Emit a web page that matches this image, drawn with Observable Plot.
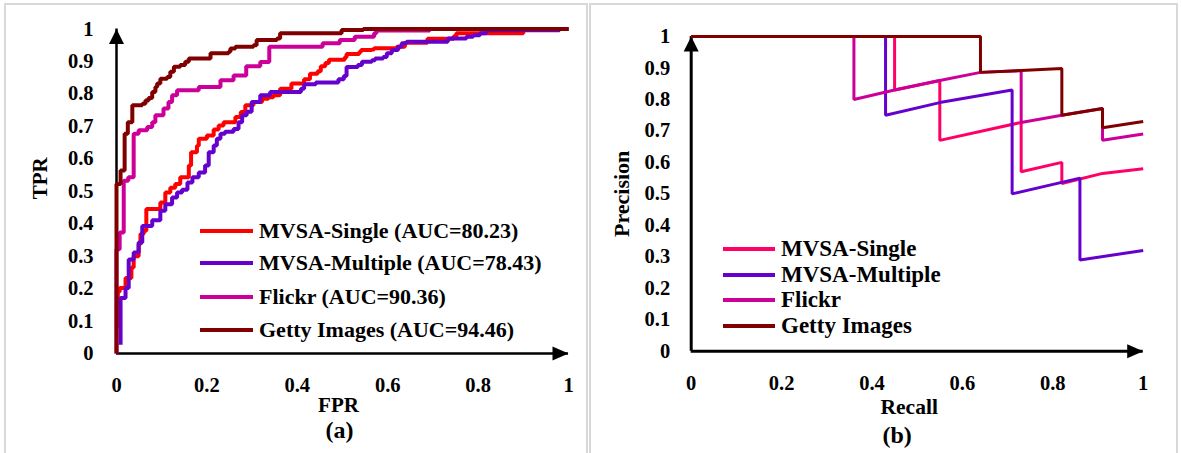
<!DOCTYPE html>
<html><head><meta charset="utf-8">
<script src="https://cdn.jsdelivr.net/npm/d3@7"></script>
<script src="https://cdn.jsdelivr.net/npm/@observablehq/plot@0.6"></script>
<style>
html,body{margin:0;padding:0;background:#fff;width:1181px;height:453px;overflow:hidden;}
#page{position:relative;width:1181px;height:453px;font-family:"Liberation Serif","Times New Roman",serif;font-weight:bold;color:#000;}
.plotbox{position:absolute;top:0;}
.panel{position:absolute;top:3px;height:480px;border:2px solid #d9d9d9;box-sizing:border-box;pointer-events:none;z-index:5;}
.row{position:absolute;display:flex;align-items:center;white-space:nowrap;height:30px;z-index:6;}
.sw{display:inline-block;}
</style></head><body><div id="page"></div>
<script>
// ---------- data ----------
const seriesNames = ["MVSA-Single", "MVSA-Multiple", "Flickr", "Getty Images"];
const aucValues = ["80.23", "78.43", "90.36", "94.46"];
const rocColors = ["#FF0000", "#6600CC", "#CC0099", "#800000"];
const prColors = ["#FF0066", "#6600CC", "#CC0099", "#800000"];

const xTicks = [0, 0.2, 0.4, 0.6, 0.8, 1];
const xTickLabels = ["0", "0.2", "0.4", "0.6", "0.8", "1"];
const yTicks = [0, 0.1, 0.2, 0.3, 0.4, 0.5, 0.6, 0.7, 0.8, 0.9, 1];
const yTickLabels = ["0", "0.1", "0.2", "0.3", "0.4", "0.5", "0.6", "0.7", "0.8", "0.9", "1"];
const xDomain = [0, 1];
const yDomain = [0, 1];

// ROC curves (a): FPR / TPR
const singleFPR = [0.003, 0.003, 0.007, 0.020, 0.033, 0.038, 0.049, 0.053, 0.060, 0.066, 0.097, 0.108, 0.119, 0.130, 0.141, 0.160, 0.165, 0.178, 0.182, 0.200, 0.215, 0.226, 0.237, 0.263, 0.275, 0.285, 0.303, 0.322, 0.336, 0.347, 0.362, 0.387, 0.415, 0.428, 0.445, 0.452, 0.462, 0.470, 0.505, 0.509, 0.537, 0.541, 0.565, 0.570, 0.620, 0.638, 0.688, 0.746, 0.752, 0.900, 1];
const singleTPR = [0.080, 0.190, 0.202, 0.233, 0.265, 0.300, 0.337, 0.368, 0.378, 0.445, 0.465, 0.496, 0.511, 0.522, 0.543, 0.579, 0.620, 0.640, 0.662, 0.672, 0.690, 0.703, 0.713, 0.729, 0.744, 0.765, 0.775, 0.785, 0.790, 0.796, 0.816, 0.832, 0.845, 0.862, 0.870, 0.885, 0.895, 0.905, 0.913, 0.923, 0.929, 0.935, 0.937, 0.941, 0.945, 0.958, 0.970, 0.978, 0.987, 1, 1];
const multipleFPR = [0.009, 0.009, 0.020, 0.027, 0.038, 0.049, 0.057, 0.079, 0.097, 0.108, 0.123, 0.134, 0.145, 0.157, 0.168, 0.182, 0.196, 0.204, 0.215, 0.222, 0.230, 0.240, 0.259, 0.270, 0.278, 0.288, 0.299, 0.318, 0.340, 0.408, 0.415, 0.441, 0.491, 0.503, 0.509, 0.534, 0.543, 0.565, 0.572, 0.590, 0.598, 0.609, 0.623, 0.631, 0.642, 0.733, 0.774, 0.789, 0.804, 0.818, 0.980, 1];
const multipleTPR = [0.027, 0.171, 0.202, 0.290, 0.311, 0.342, 0.393, 0.411, 0.440, 0.460, 0.481, 0.496, 0.505, 0.527, 0.543, 0.558, 0.579, 0.620, 0.641, 0.662, 0.677, 0.683, 0.692, 0.713, 0.734, 0.745, 0.775, 0.796, 0.806, 0.816, 0.830, 0.835, 0.845, 0.855, 0.883, 0.889, 0.899, 0.904, 0.909, 0.914, 0.925, 0.935, 0.945, 0.956, 0.961, 0.971, 0.976, 0.981, 0.987, 0.996, 1, 1];
const flickrFPR = [0, 0, 0.007, 0.016, 0.026, 0.038, 0.049, 0.068, 0.079, 0.086, 0.104, 0.115, 0.123, 0.134, 0.182, 0.230, 0.259, 0.287, 0.318, 0.338, 0.456, 0.494, 0.527, 0.570, 0.575, 0.693, 1];
const flickrTPR = [0, 0.321, 0.373, 0.532, 0.543, 0.677, 0.688, 0.698, 0.713, 0.734, 0.755, 0.775, 0.796, 0.811, 0.821, 0.842, 0.857, 0.885, 0.898, 0.945, 0.956, 0.966, 0.976, 0.987, 0.995, 1, 1];
const gettyFPR = [0, 0, 0.009, 0.018, 0.025, 0.035, 0.057, 0.064, 0.071, 0.079, 0.086, 0.090, 0.097, 0.112, 0.119, 0.127, 0.141, 0.152, 0.160, 0.208, 0.248, 0.252, 0.263, 0.303, 0.310, 0.355, 0.362, 0.498, 0.546, 1];
const gettyTPR = [0, 0.522, 0.564, 0.677, 0.713, 0.765, 0.770, 0.780, 0.787, 0.806, 0.821, 0.832, 0.847, 0.852, 0.868, 0.884, 0.889, 0.899, 0.909, 0.925, 0.930, 0.940, 0.945, 0.950, 0.966, 0.971, 0.987, 0.997, 1, 1];

// Precision-recall curves (b)
const singleRecall = [0, 0.45, 0.45, 0.55, 0.55, 0.73, 0.73, 0.82, 0.82, 0.91, 1];
const singlePrecision = [1, 1, 0.83, 0.86, 0.67, 0.727, 0.57, 0.60, 0.533, 0.565, 0.58];
const multipleRecall = [0, 0.43, 0.43, 0.55, 0.71, 0.71, 0.86, 0.86, 1];
const multiplePrecision = [1, 1, 0.75, 0.79, 0.83, 0.50, 0.55, 0.29, 0.32];
const flickrRecall = [0, 0.36, 0.36, 0.45, 0.55, 0.64, 0.73, 0.73, 0.82, 0.91, 0.91, 1];
const flickrPrecision = [1, 1, 0.80, 0.83, 0.86, 0.886, 0.892, 0.727, 0.75, 0.771, 0.67, 0.69];
const gettyRecall = [0, 0.64, 0.64, 0.82, 0.82, 0.91, 0.91, 1];
const gettyPrecision = [1, 1, 0.886, 0.898, 0.75, 0.771, 0.71, 0.73];

// ---------- build tables ----------
const rocX = [singleFPR, multipleFPR, flickrFPR, gettyFPR];
const rocY = [singleTPR, multipleTPR, flickrTPR, gettyTPR];
const prX = [singleRecall, multipleRecall, flickrRecall, gettyRecall];
const prY = [singlePrecision, multiplePrecision, flickrPrecision, gettyPrecision];
function table(xs, ys) {
  const rows = [];
  seriesNames.forEach((name, k) => xs[k].forEach((x, i) => rows.push({series: name, x, y: ys[k][i]})));
  return rows;
}
const rocData = table(rocX, rocY);
const prData = table(prX, prY);

const FONT = '"Liberation Serif", "Times New Roman", serif';
const arrowUp = {draw(ctx) { ctx.moveTo(0, 0); ctx.lineTo(7.5, 15); ctx.lineTo(-7.5, 15); ctx.closePath(); }};
const arrowRight = {draw(ctx) { ctx.moveTo(0, 0); ctx.lineTo(-16, -7); ctx.lineTo(-16, 7); ctx.closePath(); }};

function chart(o) {
  return Plot.plot({
    width: o.width, height: 453,
    marginLeft: o.ml, marginRight: o.mr, marginTop: o.mt, marginBottom: o.mb,
    x: {domain: xDomain}, y: {domain: yDomain},
    color: {domain: seriesNames, range: o.colors},
    style: {fontFamily: FONT, fontWeight: "bold", fontSize: o.tickFont + "px", background: "transparent", color: "#000", overflow: "visible"},
    marks: [
      Plot.axisX({ticks: xTicks, tickFormat: d => xTickLabels[xTicks.indexOf(d)], tickSize: 0, tickPadding: o.xPad, label: null}),
      Plot.axisY({ticks: yTicks, tickFormat: d => yTickLabels[yTicks.indexOf(d)], tickSize: 0, tickPadding: o.yPad, label: null}),
      Plot.ruleY([yDomain[0]], {x1: xDomain[0], x2: xDomain[1], stroke: "#000", strokeWidth: o.axisW}),
      Plot.ruleX([xDomain[0]], {y1: yDomain[0], y2: yDomain[1], stroke: "#000", strokeWidth: o.axisW}),
      Plot.dot([{x: xDomain[1], y: yDomain[0]}], {x: "x", y: "y", symbol: arrowRight, fill: "#000", stroke: "none"}),
      Plot.dot([{x: xDomain[0], y: yDomain[1]}], {x: "x", y: "y", symbol: arrowUp, fill: "#000", stroke: "none"}),
      Plot.line(o.data, {x: "x", y: "y", z: "series", stroke: "series", curve: o.curve, strokeWidth: o.lineW, strokeLinejoin: "miter", strokeLinecap: "butt"}),
      Plot.text([o.xLabel], {text: d => d, frameAnchor: "bottom", lineAnchor: "middle", textAnchor: "middle", dx: o.xLabDx, dy: o.xLabDy, fontSize: o.labFont}),
      Plot.text([o.panel], {text: d => d, frameAnchor: "bottom", lineAnchor: "middle", textAnchor: "middle", dx: o.panDx, dy: o.panDy, fontSize: 24}),
      Plot.text([o.yLabel], {text: d => d, frameAnchor: "left", lineAnchor: "middle", textAnchor: "middle", rotate: -90, dx: o.yLabDx, dy: o.yLabDy, fontSize: o.yLabFont})
    ]
  });
}

const page = document.getElementById("page");
function place(node, left) {
  const d = document.createElement("div");
  d.className = "plotbox";
  d.style.left = left + "px";
  d.appendChild(node);
  page.appendChild(d);
}
place(chart({width: 588, ml: 116, mr: 20, mt: 28.5, mb: 100, colors: rocColors, data: rocData, curve: "step-after",
  lineW: 4, axisW: 2.5, tickFont: 20.5, xPad: 24, yPad: 23, labFont: 21, yLabFont: 21,
  xLabel: "FPR", xLabDx: -4, xLabDy: 52, panel: "(a)", panDx: -3, panDy: 77,
  yLabel: "TPR", yLabDx: -76, yLabDy: -13}), 0);
place(chart({width: 593, ml: 102.7, mr: 38.3, mt: 36, mb: 102.3, colors: prColors, data: prData, curve: "linear",
  lineW: 3, axisW: 3, tickFont: 20.5, xPad: 24, yPad: 21, labFont: 21.5, yLabFont: 22,
  xLabel: "Recall", xLabDx: -8, xLabDy: 56, panel: "(b)", panDx: -20, panDy: 84,
  yLabel: "Precision", yLabDx: -69, yLabDy: 0}), 588);

// panel borders
[[4, 584], [589, 589]].forEach(([l, w]) => {
  const p = document.createElement("div");
  p.className = "panel"; p.style.left = l + "px"; p.style.width = w + "px";
  page.appendChild(p);
});

// legends
function legend(labels, colors, rowsY, swLeft, swW, swH, gap, font) {
  labels.forEach((lab, i) => {
    const r = document.createElement("div");
    r.className = "row";
    r.style.left = swLeft + "px";
    r.style.top = (rowsY[i] - 15) + "px";
    r.style.fontSize = font + "px";
    const s = document.createElement("span");
    s.className = "sw";
    s.style.width = swW + "px"; s.style.height = swH + "px"; s.style.background = colors[i]; s.style.marginRight = gap + "px";
    const t = document.createElement("span");
    t.textContent = lab;
    r.appendChild(s); r.appendChild(t);
    page.appendChild(r);
  });
}
legend(seriesNames.map((n, i) => `${n} (AUC=${aucValues[i]})`), rocColors, [231, 263, 297, 330], 200, 53, 4, 6, 22);
legend(seriesNames, prColors, [249, 275, 300, 326], 723, 52, 3.5, 6, 23);
</script></body></html>
